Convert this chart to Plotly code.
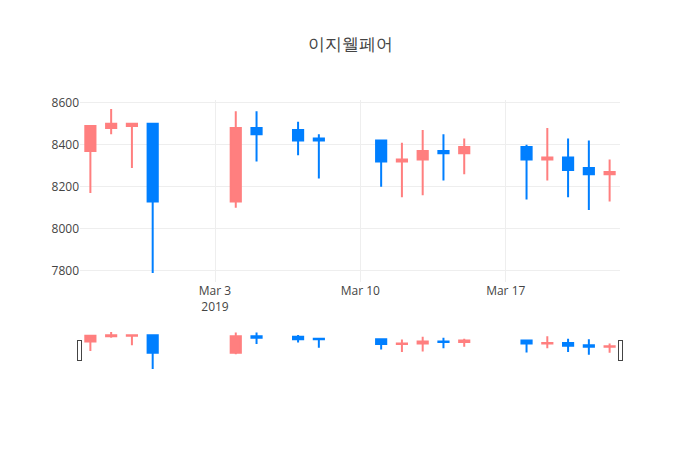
import plotly.graph_objects as go

dates = ["2019-02-25", "2019-02-26", "2019-02-27", "2019-02-28",
         "2019-03-04", "2019-03-05", "2019-03-07", "2019-03-08",
         "2019-03-11", "2019-03-12", "2019-03-13", "2019-03-14", "2019-03-15",
         "2019-03-18", "2019-03-19", "2019-03-20", "2019-03-21", "2019-03-22"]
open_ = [8370, 8480, 8490, 8500, 8130, 8480, 8470, 8430,
         8420, 8320, 8330, 8370, 8360, 8390, 8330, 8340, 8290, 8260]
high = [8490, 8570, 8500, 8500, 8560, 8560, 8510, 8450,
        8420, 8410, 8470, 8450, 8430, 8400, 8480, 8430, 8420, 8330]
low = [8170, 8450, 8290, 7790, 8100, 8320, 8350, 8240,
       8200, 8150, 8160, 8230, 8260, 8140, 8230, 8150, 8090, 8130]
close = [8490, 8500, 8500, 8130, 8480, 8450, 8420, 8420,
         8320, 8330, 8370, 8360, 8390, 8330, 8340, 8280, 8260, 8270]

fig = go.Figure(go.Candlestick(
    x=dates, open=open_, high=high, low=low, close=close,
    increasing=dict(line=dict(color="#FF7F7F"), fillcolor="#FF7F7F"),
    decreasing=dict(line=dict(color="#007FFF"), fillcolor="#007FFF"),
))
fig.update_layout(
    template="none",
    title=dict(text="이지웰페어", x=0.5, xanchor="center"),
    width=700, height=450,
    margin=dict(l=80, r=80, t=100, b=80),
    showlegend=False,
)
fig.update_xaxes(gridcolor="#eee")
fig.update_yaxes(gridcolor="#eee")
fig.write_html("out.html", config={"displayModeBar": False},
               post_script="document.body.style.margin='0';")
